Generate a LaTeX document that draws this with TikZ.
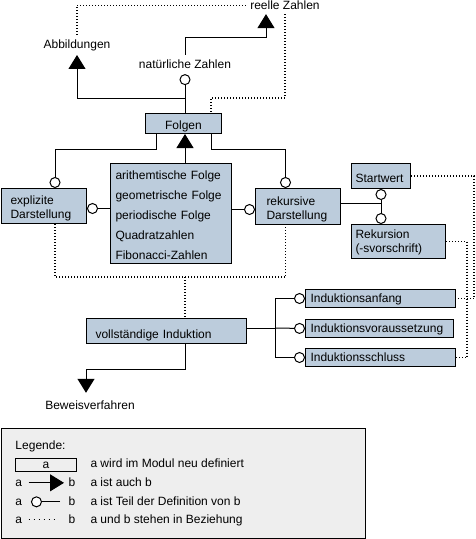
\documentclass[tikz,border=0pt]{standalone}
\usepackage{fontspec}
\setmainfont{Liberation Sans}
\usetikzlibrary{arrows.meta,calc}
\definecolor{boxblue}{RGB}{188,204,220}
\definecolor{legendgray}{RGB}{238,238,238}
\begin{document}
\begin{tikzpicture}[x=1pt,y=-1pt, line width=1pt,
  every node/.style={font=\fontsize{12}{14}\selectfont},
  box/.style={draw, fill=boxblue, anchor=north west, inner ysep=0pt, align=left},
  lbl/.style={anchor=base, inner sep=4pt},
  ltxt/.style={anchor=base west, inner sep=0pt},
  isa/.style={-{Triangle[width=17pt,length=14pt]}},
  partof/.style={-{Circle[length=11pt,width=11pt,fill=white]}},
  rel/.style={line width=1.1pt, dash pattern=on 1pt off 2pt}]
\useasboundingbox (0,0) rectangle (475,539);

% boxes
\node[box, minimum width=76pt, minimum height=20pt, inner xsep=0pt, align=center, text height=11pt, text depth=0pt] (folgen) at (145,113) {Folgen};
\node[box, minimum width=121pt, minimum height=100pt, inner xsep=5pt, text width=111pt, text height=12pt, font=\fontsize{12}{20}\selectfont] (list) at (110,163) {arithemtische Folge\\geometrische Folge\\periodische Folge\\Quadratzahlen\\Fibonacci-Zahlen};
\node[box, minimum width=85pt, minimum height=35pt, inner xsep=9pt, text width=67pt, text height=13.5pt] (expl) at (1,188) {explizite\\Darstellung};
\node[box, minimum width=85pt, minimum height=36pt, inner xsep=11pt, text width=63pt, text height=14.5pt] (rek) at (255,188) {rekursive\\Darstellung};
\node[box, minimum width=59pt, minimum height=25pt, inner xsep=4pt, text width=51pt, text height=13pt, text depth=0pt] (start) at (351,163) {Startwert};
\node[box, minimum width=94pt, minimum height=34pt, inner xsep=4pt, text width=86pt, text height=10.5pt] (rekur) at (351,224) {Rekursion\\(-svorschrift)};
\node[box, minimum width=160pt, minimum height=25pt, inner xsep=9pt, text width=142pt, text height=15pt, text depth=0pt] (vi) at (86,318) {vollständige Induktion};
\node[box, minimum width=150pt, minimum height=18pt, inner xsep=5pt, text width=140pt, text height=8pt, text depth=0pt] (ia) at (305,289) {Induktionsanfang};
\node[box, minimum width=148pt, minimum height=18pt, inner xsep=5pt, text width=138pt, text height=8pt, text depth=0pt] (iv) at (305,319) {Induktionsvoraussetzung};
\node[box, minimum width=150pt, minimum height=18pt, inner xsep=5pt, text width=140pt, text height=8pt, text depth=0pt] (ischl) at (305,348) {Induktionsschluss};

% labels
\node[lbl] (reelle) at (285,9.5) {reelle Zahlen};
\node[lbl] (abb) at (77,48) {Abbildungen};
\node[lbl] (nat) at (185,68) {natürliche Zahlen};
\node[lbl] (bew) at (90,409) {Beweisverfahren};

\coordinate (fx) at (185,0);
\coordinate (dj) at (185,277);
\coordinate (br) at (275,328);
\coordinate (lw) at ([yshift=5pt]list.west);
\coordinate (le) at ([yshift=4pt]list.east);
\coordinate (re) at ([yshift=3pt]rek.east);

% solid connectors
\draw[partof, shorten >=1.5pt] (folgen.north -| fx) -- (nat.south);
\draw[isa] (folgen.north -| fx) -- ++(0,-15) -| (abb.south);
\draw[isa] (nat.north) -- ++(0,-17) -| ([xshift=-19pt]reelle.south);
\draw[isa] (list.north -| fx) -- (folgen.south -| fx);
\draw[partof] ($(folgen.south west)+(11,0)$) -- ++(0,15) -| ([xshift=11pt]expl.north);
\draw[partof] ($(folgen.south east)+(-11,0)$) -- ++(0,15) -| ([xshift=-12.5pt]rek.north);
\draw[partof] (lw) -- (lw -| expl.east);
\draw[partof] (le) -- (le -| rek.west);
\draw[partof] (re) -| (start.south);
\draw[partof] (re) -| (rekur.north -| start.south);
\draw (vi.east |- br) -- (br);
\draw[partof] (br) |- (ia.west);
\draw[partof] (br) -- (iv.west);
\draw[partof] (br) |- (ischl.west);
\draw[isa, shorten >=3pt] (vi.south -| fx) -- ++(0,25) -| ([xshift=-4pt]bew.north);

% dotted relations
\draw[rel] (abb.north) |- (reelle.west);
\draw[rel] (reelle.south) |- ($(folgen.north east)+(-11,-15)$) -- ($(folgen.north east)+(-11,0)$);
\draw[rel] ([xshift=11pt]expl.south) |- (dj) -| ([xshift=-12.5pt]rek.south);
\draw[rel] (dj) -- (vi.north -| dj);
\draw[rel] (start.east) -| ($(ia.east)+(18,0)$) -- (ia.east);
\draw[rel] (rekur.east) -| ($(ischl.east)+(11,0)$) -- (ischl.east);

% legend
\node[draw, fill=legendgray, anchor=north west, minimum width=364pt, minimum height=110pt, inner sep=0pt] (legend) at (1,428) {};
\node[ltxt] (lt) at (15,449) {Legende:};
\node[draw, anchor=north west, minimum width=61pt, minimum height=13pt, inner sep=0pt] (lrect) at (15,458) {a};
\node[ltxt] (ld1) at (90,467.5) {a wird im Modul neu definiert};
\node[ltxt] (la2) at (15,486) {a};
\node[ltxt] (lb2) at (68,486) {b};
\node[ltxt] (ld2) at (90,486) {a ist auch b};
\draw[isa, shorten <=6pt, shorten >=4pt] (la2.east) -- (la2.east -| lb2.west);
\node[ltxt] (la3) at (15,505) {a};
\node[ltxt] (lb3) at (68,505) {b};
\node[ltxt] (ld3) at (90,505) {a ist Teil der Definition von b};
\draw[partof, shorten <=8pt, shorten >=8.3pt] (la3.east -| lb3.west) -- (la3.east);
\node[ltxt] (la4) at (15,523) {a};
\node[ltxt] (lb4) at (68,523) {b};
\node[ltxt] (ld4) at (90,523) {a und b stehen in Beziehung};
\draw[line width=1.1pt, dash pattern=on 1pt off 4pt, shorten <=6pt, shorten >=10pt] (la4.east) -- (la4.east -| lb4.west);
\end{tikzpicture}
\end{document}
